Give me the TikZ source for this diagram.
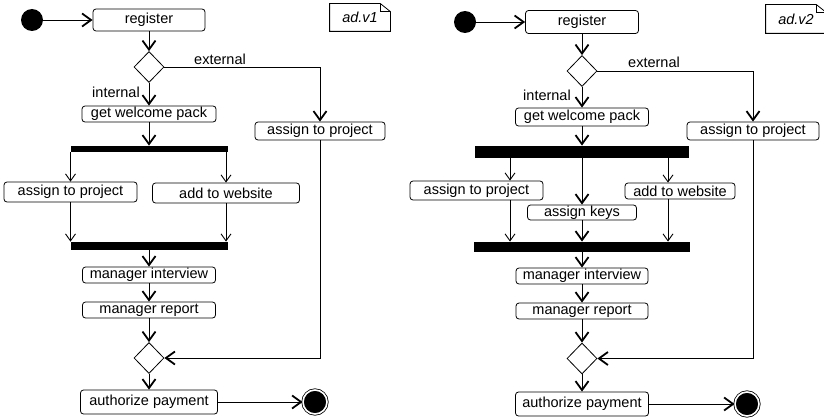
\documentclass[tikz,border=0pt]{standalone}
\usepackage{fontspec}
\setmainfont{Liberation Sans}
\usetikzlibrary{arrows.meta,shapes.geometric}

\newcommand\diagfont{\fontsize{14.5}{16}\selectfont}

\tikzset{
  act/.style={draw, rounded corners=3pt, inner sep=0pt},
  bar/.style={fill=black, inner sep=0pt},
  decision/.style={draw, diamond, inner sep=0pt, minimum width=30pt, minimum height=31pt},
  initial/.style={circle, fill=black, inner sep=0pt, minimum size=22pt},
  final/.style={circle, fill=black, draw=black, double=white, double distance=1.6pt, inner sep=0pt, minimum size=24pt},
  note/.style={font=\diagfont\itshape, inner sep=0pt, minimum width=60pt, minimum height=27pt},
  guard/.style={inner sep=0pt},
  flow/.style={-{Straight Barb[length=9pt,width=13pt,line width=1.8pt]}},
  fine/.style={-{Straight Barb[length=7pt,width=10pt,line width=0.9pt]}},
}

\begin{document}
\begin{tikzpicture}[x=1pt, y=-1pt, line width=0.8pt, font=\diagfont]
  \useasboundingbox (0,0) rectangle (824,420);
  % ad.v1
  \node[initial] (start1) at (32,20) {};
  \node[act, minimum width=112pt, minimum height=22pt] (reg1) at (149,20) {register};
  \node[note] (note1) at (360,17.5) {ad.v1};
  \node[decision] (dec1) at (149,67) {};
  \node[act, minimum width=134pt, minimum height=16pt] (wel1) at (149,114) {get welcome pack};
  \node[act, minimum width=130pt, minimum height=18pt] (ext1) at (320,131) {assign to project};
  \node[bar, minimum width=157pt, minimum height=6pt] (fork1) at (149,149) {};
  \node[act, minimum width=133pt, minimum height=20pt] (prj1) at (70.5,192) {assign to project};
  \node[act, minimum width=147pt, minimum height=20pt] (web1) at (226,193) {add to website};
  \node[bar, minimum width=157pt, minimum height=8pt] (join1) at (149,246) {};
  \node[act, minimum width=133pt, minimum height=16pt] (int1) at (149,275) {manager interview};
  \node[act, minimum width=133pt, minimum height=16pt] (rep1) at (149,310) {manager report};
  \node[decision] (mrg1) at (149,358) {};
  \node[act, minimum width=137pt, minimum height=24pt] (pay1) at (149,402) {authorize payment};
  \node[final] (end1) at (315,402) {};
  \node[guard] (lext1) at (220,59) {external};
  \node[guard] (lint1) at (116,92) {internal};
  \draw (note1.north west) -- ([xshift=-10pt]note1.north east) -- ([yshift=-8pt]note1.north east) -- (note1.south east) -- (note1.south west) -- cycle;
  \draw ([xshift=-10pt]note1.north east) -- ([xshift=-10pt,yshift=-8pt]note1.north east) -- ([yshift=-8pt]note1.north east);
  \draw[flow] (start1) -- (reg1);
  \draw[flow] (reg1) -- (dec1);
  \draw[flow] (dec1) -- (wel1);
  \draw[flow] (dec1) -| (ext1);
  \draw[flow] (wel1) -- (fork1);
  \draw[fine] (fork1.south -| prj1.north) -- (prj1.north);
  \draw[fine] (fork1.south -| web1.north) -- (web1.north);
  \draw[fine] (prj1.south) -- (join1.north -| prj1.south);
  \draw[fine] (web1.south) -- (join1.north -| web1.south);
  \draw[flow] (join1) -- (int1);
  \draw[flow] (int1) -- (rep1);
  \draw[flow] (rep1) -- (mrg1);
  \draw[flow] (ext1) |- (mrg1);
  \draw[flow] (mrg1) -- (pay1);
  \draw[flow] (pay1) -- (end1);
  % ad.v2
  \node[initial] (start2) at (465,22) {};
  \node[act, minimum width=113pt, minimum height=23pt] (reg2) at (582,22) {register};
  \node[note, minimum height=28pt] (note2) at (796,19) {ad.v2};
  \node[decision] (dec2) at (582,71) {};
  \node[act, minimum width=133pt, minimum height=18pt] (wel2) at (582,117) {get welcome pack};
  \node[act, minimum width=132pt, minimum height=18pt] (ext2) at (753,131) {assign to project};
  \node[bar, minimum width=214pt, minimum height=12pt] (fork2) at (582,152) {};
  \node[act, minimum width=133pt, minimum height=19pt] (prj2) at (476.5,190.5) {assign to project};
  \node[act, minimum width=109pt, minimum height=15pt] (key2) at (582,212.5) {assign keys};
  \node[act, minimum width=110pt, minimum height=16pt] (web2) at (680,191) {add to website};
  \node[bar, minimum width=216pt, minimum height=10pt] (join2) at (582,247) {};
  \node[act, minimum width=132pt, minimum height=16pt] (int2) at (582,276) {manager interview};
  \node[act, minimum width=132pt, minimum height=16pt] (rep2) at (582,311) {manager report};
  \node[decision] (mrg2) at (582,358.5) {};
  \node[act, minimum width=133pt, minimum height=24pt] (pay2) at (582,404) {authorize payment};
  \node[final] (end2) at (747,404) {};
  \node[guard] (lext2) at (654,62) {external};
  \node[guard] (lint2) at (547,95) {internal};
  \coordinate (tap2a) at (510,0);
  \coordinate (tap2b) at (668,0);
  \draw (note2.north west) -- ([xshift=-10pt]note2.north east) -- ([yshift=-8pt]note2.north east) -- (note2.south east) -- (note2.south west) -- cycle;
  \draw ([xshift=-10pt]note2.north east) -- ([xshift=-10pt,yshift=-8pt]note2.north east) -- ([yshift=-8pt]note2.north east);
  \draw[flow] (start2) -- (reg2);
  \draw[flow] (reg2) -- (dec2);
  \draw[flow] (dec2) -- (wel2);
  \draw[flow] (dec2) -| (ext2);
  \draw[flow] (wel2) -- (fork2);
  \draw[fine] (fork2.south -| tap2a) -- (prj2.north -| tap2a);
  \draw[flow] (fork2) -- (key2);
  \draw[fine] (fork2.south -| tap2b) -- (web2.north -| tap2b);
  \draw[fine] (prj2.south -| tap2a) -- (join2.north -| tap2a);
  \draw[flow] (key2) -- (join2);
  \draw[fine] (web2.south -| tap2b) -- (join2.north -| tap2b);
  \draw[flow] (join2) -- (int2);
  \draw[flow] (int2) -- (rep2);
  \draw[flow] (rep2) -- (mrg2);
  \draw[flow] (ext2) |- (mrg2);
  \draw[flow] (mrg2) -- (pay2);
  \draw[flow] (pay2) -- (end2);
\end{tikzpicture}
\end{document}
